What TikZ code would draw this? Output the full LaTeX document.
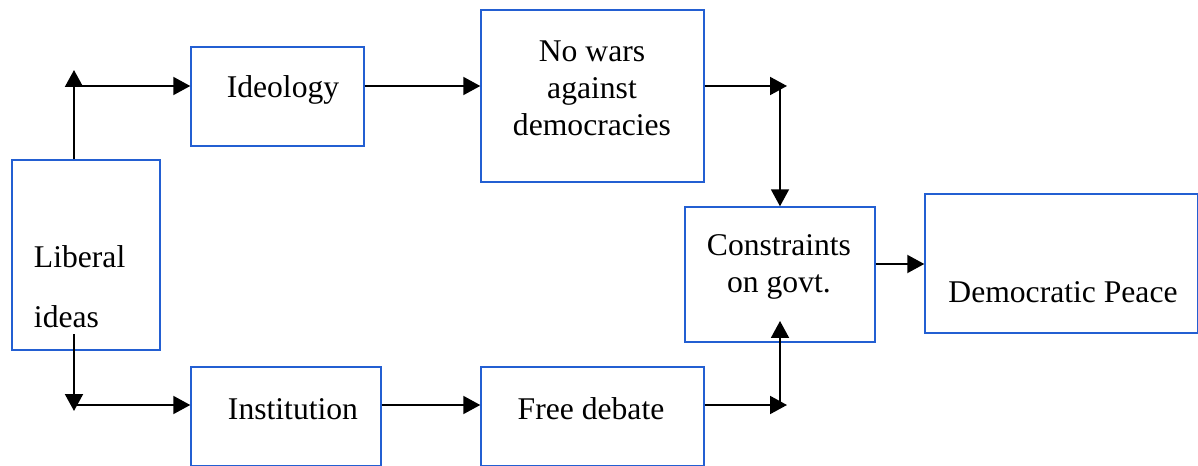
\documentclass[tikz,border=0pt]{standalone}
\usepackage{fontspec}
\setmainfont{Liberation Serif}
\usetikzlibrary{arrows.meta,positioning}
\definecolor{boxblue}{RGB}{35,95,210}

\begin{document}
\begin{tikzpicture}[x=0.02cm, y=-0.02cm,
	box/.style={shape=rectangle, draw=boxblue, line width=0.85pt, inner sep=0},
	txt/.style={font=\fontsize{18}{21}\selectfont, inner sep=0, align=center},
	>={Triangle[length=0.34cm, width=0.36cm]}, line width=1.1pt]
				\useasboundingbox (0,0) rectangle (1198,466);
				% boxes
				\node[box, minimum width=2.96cm, minimum height=3.8cm] (lib) at (86,255) {};
				\node[box, minimum width=3.46cm, minimum height=1.98cm] (ideo) at (277.5,96.5) {};
				\node[box, minimum width=4.46cm, minimum height=3.44cm] (nowars) at (592.5,96) {};
				\node[box, minimum width=3.8cm, minimum height=1.98cm] (inst) at (286,416.5) {};
				\node[box, minimum width=4.46cm, minimum height=1.98cm] (free) at (592.5,416.5) {};
				\node[box, minimum width=3.8cm, minimum height=2.7cm] (cons) at (780,274.5) {};
				\node[box, minimum width=5.46cm, minimum height=2.78cm] (peace) at (1061.5,263.5) {};
				% texts
				\node[txt, anchor=base west] (lib-a) at (33,268) {Liberal};
				\node[txt, anchor=base west] (lib-b) at (33,327) {ideas};
				\node[txt] (ideo-t) at (283,90) {Ideology};
				\node[txt] (nowars-t) at (592,88) {No wars\\against\\democracies};
				\node[txt] (inst-t) at (293,409) {Institution};
				\node[txt] (free-t) at (591,409) {Free debate};
				\node[txt] (cons-t) at (779,267) {Constraints\\on govt.};
				\node[txt] (peace-t) at (1063,292) {Democratic Peace};
				% corner points
				\coordinate (upT) at (74,70);
				\coordinate (upC) at (76,86);
				\coordinate (dnS) at (74,334);
				\coordinate (dnB) at (74,411);
				\coordinate (dnC) at (76,405);
				\coordinate (rT) at (787,86);
				\coordinate (rB) at (787,405);
				\coordinate (rBu) at (780,321);
				\coordinate (mid) at (900,264);
				% connectors
				\draw[->] (upT |- lib.north) -- (upT);
				\draw[->] (upC) -- (upC -| ideo.west);
				\draw[->] (ideo.east |- upC) -- (nowars.west |- upC);
				\draw[->] (nowars.east |- rT) -- (rT);
				\draw[->] (cons.north |- rT) -- (cons.north);
				\draw[->] (dnS) -- (dnB);
				\draw[->] (dnC) -- (dnC -| inst.west);
				\draw[->] (inst.east |- dnC) -- (free.west |- dnC);
				\draw[->] (free.east |- rB) -- (rB);
				\draw[->] (rBu |- rB) -- (rBu);
				\draw[->] (cons.east |- mid) -- (peace.west |- mid);
			\end{tikzpicture}
\end{document}
